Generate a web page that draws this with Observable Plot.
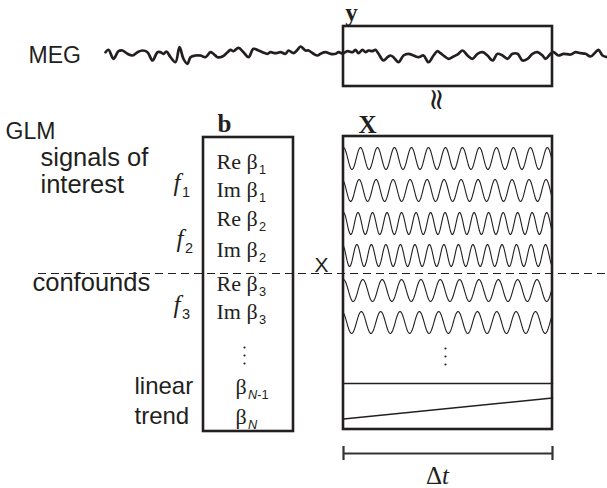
<!DOCTYPE html>
<html><head><meta charset="utf-8">
<script src="https://cdn.jsdelivr.net/npm/d3@7"></script>
<script src="https://cdn.jsdelivr.net/npm/@observablehq/plot@0.6"></script>
<style>html,body{margin:0;padding:0;background:#fff;} svg{display:block;}</style>
</head><body><div id="chart"></div>
<script>
// ---------- DATA ----------
// MEG trace: time position along the recording and deflection (up = positive)
const megT = [0,3,8,13,17,22,27,32,37,42,47,52,55,58,61,65,70,74,78,82,85,90,95,100,105,108,112,117,122,125,128,133,138,143,148,153,157,162,165,170,175,180,183,188,192,195,200,203,208,212,215,220,225,230,233,
  237,242,247,250,253,257,260,263,267,270,273,278,282,285,288,293,298,303,308,313,318,323,328,332,335,338,343,348,353,357,362,367,372,377,382,387,392,397,402,407,412,417,422,427,432,437,440,445,448,453,458,465,470,475,480,485,490,493,497,502];
const megV = [0.3,2.7,-6.3,1.3,2,-1.3,-3,0.3,2,0.3,-8,0.3,0.3,-1.3,1,-4.7,-9.7,5.3,-6.3,-11.3,-4.7,-3,-3,-4.7,0.3,-1.3,-4.7,-4,0.3,2.7,1.3,4.7,0.3,-4.7,3.7,2,0.3,-1.3,0.3,-0.7,0.3,-1.3,2,-0.7,2.7,6,2,2,-1.3,-3,-1.3,0.3,-1.3,-1.3,0.3,
  -1,1.3,0.3,2.7,-0.7,2.7,0.3,2,1.3,2.7,-1.3,-8,-4.7,-3,-4.7,-9.7,-3,-1.3,-3,-4.7,-3,-9.7,-3,1.3,-0.7,-3,-6.3,-4,-1.3,2,-3,-6.3,-1.3,0.3,-3,-8,-1.3,-3,-6.3,-1.3,-1.3,-8,-6.3,-1.3,0.3,-3,-6.3,-1.3,0.3,-3,-1.3,-2,0.3,-0.7,-1.3,-4,0.3,2.7,-3,-4.7];

// GLM coefficient labels (b vector) and matching regressors (X columns)
const coefLabels = ["Re β_1","Im β_1","Re β_2","Im β_2","Re β_3","Im β_3"];
const regCycles  = [12.3, 12.3, 14.4, 14.4, 10.8, 10.8];   // cycles within the window
const regPhase   = [0, 0.08, 0, 0.08, 0, 0.08];             // phase offset (cycles)
const trendLabels = ["β_N-1","β_N"];
const trendStartV = [0, -1];   // regressor value at window start
const trendEndV   = [0, 1];    // regressor value at window end
const freqLabels = ["f_1","f_2","f_3"];
const groupLabels = ["signals of","interest","confounds","linear","trend"];
const headLabels = ["MEG","GLM"];
const symbolLabels = ["y","b","X"];

// ---------- LAYOUT ----------
const W = 607, H = 488;
const SANS = "'Liberation Sans', Arial, Helvetica, sans-serif";
const SERIF = "'Liberation Serif', 'Times New Roman', serif";
const INK = "#231f20";
const win = {x1: 343, x2: 552};                 // time window (y and X boxes)
const megY = 52, megX0 = 105;
const bBox = {x1: 203, x2: 293, y1: 137, y2: 431};
const XBox = {x1: win.x1, x2: win.x2, y1: 136, y2: 429};
const yBox = {x1: win.x1, x2: win.x2, y1: 26, y2: 86};
const rowY = [158, 190, 223, 255, 290, 322];
const coefBase = [168, 196, 225, 256, 290, 318];
const amp = 11;
const trendRowY = [383, 408], trendAmp = 10.5;
const dashY = 273;

// build tables from data
const meg = megT.map((t, i) => ({x: megX0 + t, y: megY - megV[i]}));
const waves = [];
coefLabels.forEach((lab, r) => {
  const n = 240;
  for (let k = 0; k <= n; k++) {
    const u = k / n;
    waves.push({row: lab, x: win.x1 + u * (win.x2 - win.x1),
      y: rowY[r] - amp * Math.cos(2 * Math.PI * (u * regCycles[r] + regPhase[r]))});
  }
});
const trends = [];
trendLabels.forEach((lab, r) => {
  trends.push({row: lab, x: win.x1, y: trendRowY[r] - trendAmp * trendStartV[r]});
  trends.push({row: lab, x: win.x2, y: trendRowY[r] - trendAmp * trendEndV[r]});
});

const coefText = coefLabels.map((l, i) => ({t: l, x: 216, y: coefBase[i]}));
const trendText = [{t: trendLabels[0], x: 235, y: 393}, {t: trendLabels[1], x: 235, y: 423}];
const freqText = [{t: freqLabels[0], x: 173, y: 190}, {t: freqLabels[1], x: 176, y: 246}, {t: freqLabels[2], x: 173, y: 312}];
const headText = [{t: headLabels[0], x: 28, y: 62}, {t: headLabels[1], x: 5, y: 138}];
const groupText = [
  {t: groupLabels[0], x: 40, y: 165},
  {t: groupLabels[1], x: 40, y: 192},
  {t: groupLabels[2], x: 32, y: 290}
];
const trendGroupText = [
  {t: groupLabels[3], x: 134, y: 393},
  {t: groupLabels[4], x: 134, y: 423}
];
const boldText = [{t: symbolLabels[0], x: 351, y: 20}, {t: symbolLabels[1], x: 224, y: 131}, {t: symbolLabels[2], x: 367, y: 132}];

const plot = Plot.plot({
  width: W, height: H, margin: 0,
  x: {type: "identity"}, y: {type: "identity"}, axis: null,
  style: {background: "#fff"},
  marks: [
    Plot.ruleY([dashY], {x1: 38, x2: W, stroke: INK, strokeWidth: 1.2, strokeDasharray: "8,5"}),
    Plot.line(meg, {x: "x", y: "y", curve: "catmull-rom", stroke: INK, strokeWidth: 2.7, strokeLinejoin: "round"}),
    Plot.rect([yBox, XBox, bBox], {x1: "x1", x2: "x2", y1: "y1", y2: "y2", fill: "none", stroke: INK, strokeWidth: 2.6}),
    Plot.line(waves, {x: "x", y: "y", z: "row", stroke: INK, strokeWidth: 1.1}),
    Plot.line(trends, {x: "x", y: "y", z: "row", stroke: INK, strokeWidth: 1.5}),
    Plot.dot([348, 356, 364], {x: () => 445, y: d => d, r: 1.1, fill: INK, stroke: null}),
    Plot.dot([347, 355, 363], {x: () => 244, y: d => d, r: 1.1, fill: INK, stroke: null}),
    // delta t bar
    Plot.ruleY([453], {x1: win.x1, x2: win.x2, stroke: "#333", strokeWidth: 2}),
    Plot.ruleX([win.x1, win.x2], {y1: 446, y2: 460, stroke: "#333", strokeWidth: 2.2}),
    Plot.text(["Δ_t"], {x: () => 437, y: () => 483, lineAnchor: "bottom", fontFamily: SERIF, fontSize: 25, fill: INK}),
    Plot.text(["≈"], {x: () => 436, y: () => 99, rotate: 90, fontFamily: "'DejaVu Serif', serif", fontSize: 30, fill: INK}),
    Plot.text(["X"], {x: () => 321, y: () => 271, lineAnchor: "bottom", fontFamily: SANS, fontSize: 21, fill: INK}),
    Plot.text(headText, {x: "x", y: "y", text: "t", textAnchor: "start", lineAnchor: "bottom", fontFamily: SANS, fontSize: 23, fill: INK}),
    Plot.text(groupText, {x: "x", y: "y", text: "t", textAnchor: "start", lineAnchor: "bottom", fontFamily: SANS, fontSize: 25.5, fill: INK}),
    Plot.text(trendGroupText, {x: "x", y: "y", text: "t", textAnchor: "start", lineAnchor: "bottom", fontFamily: SANS, fontSize: 24, fill: INK}),
    Plot.text(coefText, {x: "x", y: "y", text: "t", textAnchor: "start", lineAnchor: "bottom", fontFamily: SERIF, fontSize: 22, fill: INK}),
    Plot.text(trendText, {x: "x", y: "y", text: "t", textAnchor: "start", lineAnchor: "bottom", fontFamily: SERIF, fontSize: 22, fill: INK}),
    Plot.text(freqText, {x: "x", y: "y", text: "t", textAnchor: "start", lineAnchor: "bottom", fontFamily: SERIF, fontStyle: "italic", fontSize: 25, fill: INK}),
    Plot.text(boldText, {x: "x", y: "y", text: "t", textAnchor: "middle", lineAnchor: "bottom", fontFamily: SERIF, fontWeight: "bold", fontSize: 25, fill: INK})
  ]
});

// rich text: "_" marks a subscript (or, for Δ_t, an italic t)
const NS = "http://www.w3.org/2000/svg";
plot.querySelectorAll("text").forEach(t => {
  const s = t.textContent;
  const i = s.indexOf("_");
  if (i < 0) return;
  t.textContent = "";
  const b = document.createElementNS(NS, "tspan");
  b.textContent = s.slice(0, i);
  t.appendChild(b);
  if (s.startsWith("Δ")) {
    const it = document.createElementNS(NS, "tspan");
    it.textContent = s.slice(i + 1);
    it.setAttribute("font-style", "italic");
    t.appendChild(it);
    return;
  }
  const parts = s.slice(i + 1).split(/(N)/).filter(Boolean);
  parts.forEach((p, k) => {
    const sp = document.createElementNS(NS, "tspan");
    sp.textContent = p;
    sp.setAttribute("font-size", "0.58em");
    sp.setAttribute("font-family", SANS);
    sp.setAttribute("font-style", p === "N" ? "italic" : "normal");
    if (k === 0) { sp.setAttribute("dy", "0.45em"); sp.setAttribute("dx", "0.1em"); }
    t.appendChild(sp);
  });
});
document.getElementById("chart").appendChild(plot);
</script>
</body></html>
